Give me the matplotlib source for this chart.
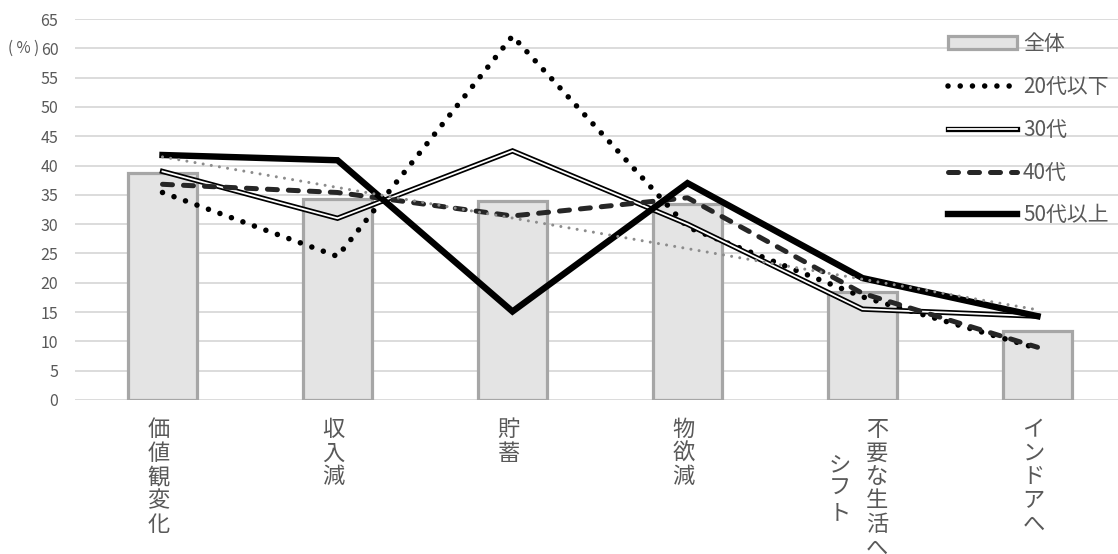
import numpy as np
import matplotlib
matplotlib.use("Agg")
import matplotlib.pyplot as plt
from matplotlib.lines import Line2D
from matplotlib.patches import Patch

plt.rcParams['font.family'] = ['Noto Sans CJK JP', 'DejaVu Sans']

# categories (vertical labels, '\n' starts a new column to the left)
categories = ['価値観変化', '収入減', '貯蓄', '物欲減', '不要な生活へ\nシフト', 'インドアへ']

# values (%)
total = [38.7, 34.3, 33.9, 33.5, 18.4, 11.8]
age_20 = [35.4, 24.5, 62.1, 29.5, 17.6, 8.8]
age_30 = [39.0, 31.0, 42.5, 30.0, 15.5, 14.3]
age_40 = [36.8, 35.4, 31.4, 34.5, 18.2, 9.0]
age_50 = [41.8, 40.9, 15.1, 37.0, 20.8, 14.3]

series_labels = ['全体', '20代以下', '30代', '40代', '50代以上']
yticks = list(range(0, 70, 5))

W, H = 1118, 554
fig = plt.figure(figsize=(W / 100, H / 100), dpi=100)
ax = fig.add_axes([75 / W, (H - 400) / H, 1050 / W, 381 / H])

x = np.arange(len(categories))
grey_txt = '#595959'

# bars
ax.bar(x, total, width=0.39, color='#e4e4e4', edgecolor='#a6a6a6',
       linewidth=2.3, zorder=2)

# 20代以下: round dots
ax.plot(x, age_20, color='black', lw=4.0, linestyle=(0, (0.001, 2.2)),
        dash_capstyle='round', zorder=3)
# 30代: double line
ax.plot(x, age_30, color='black', lw=3.8, solid_joinstyle='miter', zorder=4)
ax.plot(x, age_30, color='white', lw=1.3, solid_joinstyle='miter', zorder=4)
# 40代: dashes
ax.plot(x, age_40, color='#262626', lw=3.6, linestyle=(0, (2.0, 2.2)),
        dash_capstyle='round', zorder=5)
# 50代以上: thick solid
ax.plot(x, age_50, color='black', lw=4.6, solid_joinstyle='miter', zorder=6)

# linear trendline of 全体
coef = np.polyfit(x, total, 1)
ax.plot(x, np.polyval(coef, x), color='#8c8c8c', lw=2.2,
        linestyle=(0, (0.001, 2.7)), dash_capstyle='round', zorder=7)

ax.set_xlim(-0.5, 5.5)
ax.set_ylim(0, 65)
ax.set_yticks(yticks)
ax.yaxis.grid(True, color='#d9d9d9', lw=1.3, zorder=0)
ax.set_axisbelow(True)
for s in ax.spines.values():
    s.set_visible(False)
ax.tick_params(axis='y', length=0, pad=12, labelsize=11.5, labelcolor=grey_txt)
ax.tick_params(axis='x', length=0, labelbottom=False)

# vertical category labels
pitch_y = 23.7
pitch_x = 36.7
for i, lab in enumerate(categories):
    cols = lab.split('\n')
    n = len(cols)
    longest = max(len(c) for c in cols)
    for j, col in enumerate(cols):
        dx = -4 + ((n - 1) / 2 - j) * pitch_x
        top = 18 + (longest - len(col)) * pitch_y / 2
        for k, ch in enumerate(col):
            ax.annotate(ch, xy=(i, 0), xycoords=('data', 'axes fraction'),
                        xytext=(dx, -(top + k * pitch_y)),
                        textcoords='offset pixels', ha='center', va='top',
                        fontsize=16, color=grey_txt, annotation_clip=False)

fig.text(24 / W, 1 - 48 / H, '( % )', ha='center', va='center',
         fontsize=11, color=grey_txt)

# legend
handles = [
    Patch(facecolor='#e4e4e4', edgecolor='#a6a6a6', linewidth=2.3),
    Line2D([], [], color='black', lw=4.0, linestyle=(0, (0.001, 2.2)),
           dash_capstyle='round'),
    (Line2D([], [], color='black', lw=3.8), Line2D([], [], color='white', lw=1.3)),
    Line2D([], [], color='#262626', lw=3.6, linestyle=(0, (2.0, 2.2)),
           dash_capstyle='round'),
    Line2D([], [], color='black', lw=4.6),
]
leg = ax.legend(handles, series_labels, loc='upper left',
                bbox_to_anchor=(948 / W, 1 - 33 / H), bbox_transform=fig.transFigure,
                frameon=False, fontsize=15, handlelength=3.3, handleheight=0.6,
                handletextpad=0.3, labelspacing=1.0, borderaxespad=0,
                borderpad=0)
for t in leg.get_texts():
    t.set_color(grey_txt)

fig.savefig('out.png', dpi=100)
